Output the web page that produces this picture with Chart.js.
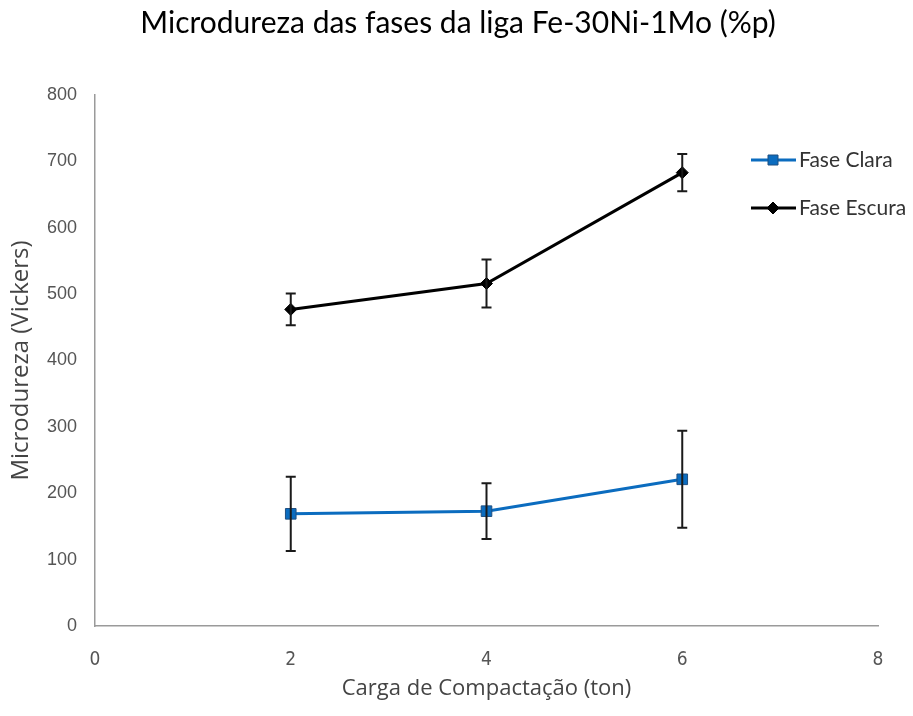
<!DOCTYPE html>
<html>
<head>
<meta charset="utf-8">
<script src="https://cdn.jsdelivr.net/npm/chart.js@4.4.1/dist/chart.umd.min.js"></script>
<style>
  html, body { margin: 0; padding: 0; background: #fff; }
  #wrap { width: 913px; height: 716px; }
</style>
</head>
<body>
<div id="wrap"><canvas id="c" width="913" height="716"></canvas></div>
<script>
const chartTitle = 'Microdureza das fases da liga Fe-30Ni-1Mo (%p)';
const cargas = [2, 4, 6];
const faseClara = [169, 173, 221];
const faseClaraErro = [56, 42, 73];
const faseEscura = [477, 516, 683];
const faseEscuraErro = [24, 36, 28];
const xTicks = [0, 2, 4, 6, 8];
const yTicks = [0, 100, 200, 300, 400, 500, 600, 700, 800];
const seriesNames = ['Fase Clara', 'Fase Escura'];
const errors = [faseClaraErro, faseEscuraErro];

const errorBars = {
  id: 'errorBars',
  afterDatasetsDraw(chart) {
    const ctx = chart.ctx;
    const ys = chart.scales.y;
    ctx.save();
    ctx.strokeStyle = '#1a1a1a';
    ctx.lineWidth = 2;
    chart.data.datasets.forEach((ds, di) => {
      const meta = chart.getDatasetMeta(di);
      meta.data.forEach((pt, i) => {
        const v = ds.data[i].y, e = errors[di][i];
        const yt = ys.getPixelForValue(v + e), yb = ys.getPixelForValue(v - e);
        const x = pt.x;
        ctx.beginPath();
        ctx.moveTo(x, yt); ctx.lineTo(x, yb);
        ctx.moveTo(x - 5, yt); ctx.lineTo(x + 5, yt);
        ctx.moveTo(x - 5, yb); ctx.lineTo(x + 5, yb);
        ctx.stroke();
      });
    });
    ctx.restore();
  }
};

const titleAndLegend = {
  id: 'titleAndLegend',
  afterDraw(chart) {
    const ctx = chart.ctx;
    ctx.save();
    ctx.fillStyle = '#000';
    ctx.font = '30px Lato, "Open Sans", sans-serif';
    ctx.textAlign = 'center';
    ctx.textBaseline = 'middle';
    ctx.fillText(chartTitle, 458, 23);

    const rows = [160, 208];
    chart.data.datasets.forEach((ds, di) => {
      const y = rows[di];
      ctx.strokeStyle = ds.borderColor;
      ctx.lineWidth = 3;
      ctx.beginPath(); ctx.moveTo(751, y); ctx.lineTo(796, y); ctx.stroke();
      ctx.fillStyle = ds.pointBackgroundColor;
      ctx.strokeStyle = ds.pointBorderColor;
      ctx.lineWidth = 1;
      ctx.beginPath();
      if (ds.pointStyle === 'rect') { ctx.rect(768, y - 5, 10, 10); }
      else { ctx.moveTo(773, y - 6); ctx.lineTo(779, y); ctx.lineTo(773, y + 6); ctx.lineTo(767, y); ctx.closePath(); }
      ctx.fill(); ctx.stroke();
      ctx.fillStyle = '#333';
      ctx.font = '21px Lato, "Open Sans", sans-serif';
      ctx.textBaseline = 'middle';
      ctx.textAlign = 'left';
      ctx.fillText(seriesNames[di], 799, y);
    });
    ctx.restore();
  }
};

new Chart(document.getElementById('c'), {
  type: 'line',
  data: {
    datasets: [
      {
        label: seriesNames[0],
        data: cargas.map((x, i) => ({ x, y: faseClara[i] })),
        borderColor: '#0b6cbf',
        backgroundColor: '#0b6cbf',
        pointBackgroundColor: '#0b6cbf',
        pointBorderColor: '#1f4f80',
        pointStyle: 'rect',
        pointRadius: 7.5,
        pointBorderWidth: 1,
        borderWidth: 3,
        tension: 0
      },
      {
        label: seriesNames[1],
        data: cargas.map((x, i) => ({ x, y: faseEscura[i] })),
        borderColor: '#000000',
        backgroundColor: '#000000',
        pointBackgroundColor: '#000000',
        pointBorderColor: '#000000',
        pointStyle: 'rectRot',
        pointRadius: 6,
        pointBorderWidth: 1,
        borderWidth: 3,
        tension: 0
      }
    ]
  },
  options: {
    responsive: false,
    animation: false,
    devicePixelRatio: 1,
    layout: { padding: { left: 0, right: 35, top: 95, bottom: 0 } },
    plugins: {
      legend: { display: false },
      tooltip: { enabled: false },
      title: { display: false }
    },
    scales: {
      x: {
        type: 'linear',
        min: 0, max: 8,
        afterBuildTicks(axis) { axis.ticks = xTicks.map(v => ({ value: v })); },
        afterFit(axis) { axis.height = 90; },
        grid: { display: false, drawTicks: false },
        border: { display: true, color: '#9a9a9a', width: 1.5 },
        ticks: { color: '#555', padding: 23, font: { family: '"DejaVu Sans Condensed", "Open Sans", sans-serif', size: 19 } },
        title: {
          display: true,
          text: 'Carga de Compactação (ton)',
          color: '#444',
          font: { family: '"Open Sans", sans-serif', size: 22 },
          padding: { top: 0, bottom: 14 }
        }
      },
      y: {
        min: 0, max: 800,
        afterBuildTicks(axis) { axis.ticks = yTicks.map(v => ({ value: v })); },
        afterFit(axis) { axis.width = 95; },
        grid: { display: false, drawTicks: false },
        border: { display: true, color: '#9a9a9a', width: 1.5 },
        ticks: { color: '#555', padding: 18, font: { family: '"Liberation Sans", Arial, sans-serif', size: 18 } },
        title: {
          display: true,
          text: 'Microdureza (Vickers)',
          color: '#444',
          font: { family: '"Open Sans", sans-serif', size: 24 },
          padding: { top: 7, bottom: 0 }
        }
      }
    }
  },
  plugins: [errorBars, titleAndLegend]
});
</script>
</body>
</html>
